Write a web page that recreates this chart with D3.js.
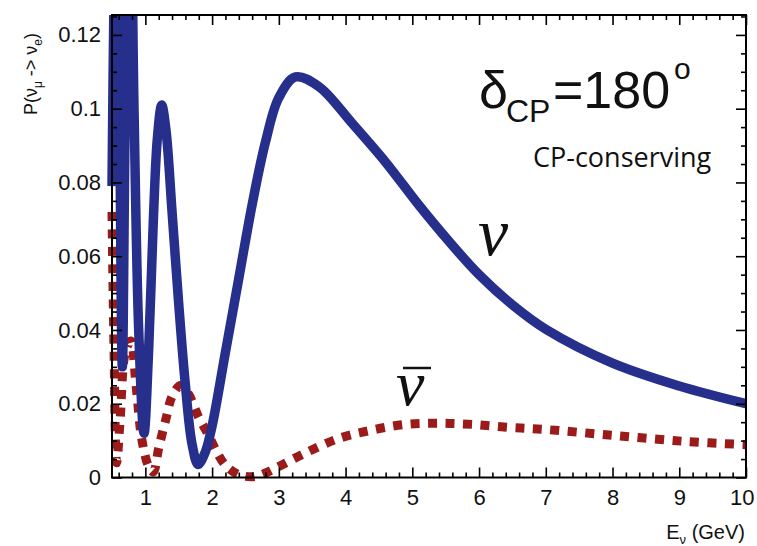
<!DOCTYPE html>
<html><head><meta charset="utf-8">
<script src="https://cdn.jsdelivr.net/npm/d3@7"></script>
<style>body{margin:0;background:#fff}svg{display:block}</style>
</head><body>
<svg id="c" width="757" height="546"></svg>
<script>
// ---- data ----
const energyNu = [0.50,0.53,0.57,0.61,0.655,0.70,0.77,0.83,0.90,0.98,1.05,1.12,1.18,1.245,1.31,1.40,1.50,1.60,1.70,1.79,1.90,2.00,2.20,2.40,2.60,2.80,3.00,3.25,3.60,4.10,4.60,5.10,5.55,6.00,6.50,7.00,8.00,9.00,10.0];
const probNu   = [0.079,0.13,0.17,0.11,0.030,0.10,0.17,0.10,0.040,0.012,0.035,0.070,0.092,0.101,0.094,0.072,0.047,0.025,0.009,0.0035,0.007,0.014,0.034,0.054,0.074,0.091,0.103,0.1086,0.106,0.096,0.0855,0.0738,0.0640,0.0550,0.0468,0.0402,0.0310,0.0248,0.0200];
const energyNuBar = [0.50,0.53,0.57,0.62,0.70,0.78,0.86,0.95,1.05,1.12,1.20,1.31,1.40,1.53,1.65,1.80,1.95,2.06,2.20,2.40,2.60,2.80,3.00,3.38,3.90,4.38,4.90,5.40,5.90,6.45,7.00,8.03,9.08,10.0];
const probNuBar   = [0.072,0.035,0.004,0.015,0.034,0.037,0.025,0.010,0.003,0.0015,0.008,0.016,0.022,0.0250,0.0225,0.0163,0.0114,0.0073,0.0033,0.0008,0.0002,0.0012,0.003,0.0065,0.0106,0.0128,0.0144,0.0147,0.0144,0.0136,0.013,0.0114,0.0098,0.0089];
const xTickValues = [1,2,3,4,5,6,7,8,9,10];
const yTickValues = [0,0.02,0.04,0.06,0.08,0.10,0.12];

// ---- layout ----
const svg = d3.select("#c");
const L=112, R=746, T=15, B=477.5;
const x = d3.scaleLinear().domain([0.5,10]).range([L,R]);
const y = d3.scaleLinear().domain([0,0.1254]).range([B,T]);
const blue = "#26308c", red = "#9b1b1b";
const numFont = "'Liberation Sans', Arial, sans-serif";
const serif = "'Liberation Serif', 'Times New Roman', serif";

svg.append("defs").append("clipPath").attr("id","clip")
  .append("rect").attr("x",L-12).attr("y",T).attr("width",R-L+24).attr("height",B-T+12);

const plot = svg.append("g").attr("clip-path","url(#clip)");
const lineGen = d3.line().x(d=>x(d[0])).y(d=>y(d[1])).curve(d3.curveCatmullRom.alpha(0.5));

plot.append("path").datum(d3.zip(energyNuBar, probNuBar))
  .attr("d", lineGen).attr("fill","none").attr("stroke",red)
  .attr("stroke-width",9).attr("stroke-dasharray","9,8.5");
plot.append("path").datum(d3.zip(energyNu, probNu))
  .attr("d", lineGen).attr("fill","none").attr("stroke",blue)
  .attr("stroke-width",9.5).attr("stroke-linejoin","round");

// ---- axes ----
const xMinor = d3.range(0.6, 10.001, 0.2).filter(v => Math.abs(v-Math.round(v))>1e-6);
const yMinor = d3.range(0.005, 0.1254, 0.005).filter(v => Math.abs(v/0.02-Math.round(v/0.02))>1e-6);
const yFmt = d => d===0 ? "0" : String(+d.toFixed(2));

function style(g){
  g.select(".domain").remove();
  g.selectAll(".tick line").attr("stroke","#000").attr("stroke-width",1.6);
  g.selectAll("text").attr("font-family",numFont).attr("font-size",22).attr("fill","#111");
}
svg.append("g").attr("transform",`translate(0,${B})`)
  .call(d3.axisBottom(x).tickValues(xTickValues).tickSize(-10).tickPadding(12).tickFormat(d3.format("d"))).call(style)
  .selectAll(".tick text").filter(d=>d===10).attr("text-anchor","end").attr("x",8);
svg.append("g").attr("transform",`translate(0,${B})`)
  .call(d3.axisBottom(x).tickValues(xMinor).tickSize(-5).tickFormat("")).call(style);
svg.append("g").attr("transform",`translate(0,${T})`)
  .call(d3.axisTop(x).tickValues(xTickValues).tickSize(-10).tickFormat("")).call(style);
svg.append("g").attr("transform",`translate(0,${T})`)
  .call(d3.axisTop(x).tickValues(xMinor).tickSize(-5).tickFormat("")).call(style);
svg.append("g").attr("transform",`translate(${L},0)`)
  .call(d3.axisLeft(y).tickValues(yTickValues).tickSize(-10).tickPadding(11).tickFormat(yFmt)).call(style);
svg.append("g").attr("transform",`translate(${L},0)`)
  .call(d3.axisLeft(y).tickValues(yMinor).tickSize(-5).tickFormat("")).call(style);
svg.append("g").attr("transform",`translate(${R},0)`)
  .call(d3.axisRight(y).tickValues(yTickValues).tickSize(-10).tickFormat("")).call(style);
svg.append("g").attr("transform",`translate(${R},0)`)
  .call(d3.axisRight(y).tickValues(yMinor).tickSize(-5).tickFormat("")).call(style);

svg.append("rect").attr("x",L).attr("y",T).attr("width",R-L).attr("height",B-T)
  .attr("fill","none").attr("stroke","#000").attr("stroke-width",2);

// ---- axis titles ----
const yl = svg.append("text").attr("transform","translate(37,74) rotate(-90)")
  .attr("text-anchor","middle").attr("font-family",numFont).attr("font-size",18).attr("fill","#111");
yl.append("tspan").text("P(ν");
yl.append("tspan").attr("font-size",12).attr("dy",5).text("μ");
yl.append("tspan").attr("dy",-5).text(" -> ν");
yl.append("tspan").attr("font-size",12).attr("dy",5).text("e");
yl.append("tspan").attr("dy",-5).text(")");

const xl = svg.append("text").attr("x",745).attr("y",539).attr("text-anchor","end")
  .attr("font-family",numFont).attr("font-size",20).attr("fill","#111");
xl.append("tspan").text("E");
xl.append("tspan").attr("font-size",13).attr("dy",5).text("ν");
xl.append("tspan").attr("dy",-5).text(" (GeV)");

// ---- annotations ----
const ann = svg.append("g").attr("fill","#111").attr("font-family",numFont);
ann.append("text").attr("x",479).attr("y",108).attr("font-size",52).text("δ");
ann.append("text").attr("x",506).attr("y",122).attr("font-size",32).text("CP");
ann.append("text").attr("x",553).attr("y",108).attr("font-size",52).text("=180");
ann.append("text").attr("x",674).attr("y",79).attr("font-size",30).text("o");

svg.append("text").attr("x",533).attr("y",167).attr("font-family","'Open Sans', sans-serif")
  .attr("font-size",27).attr("fill","#111").text("CP-conserving");

svg.append("text").attr("x",478).attr("y",255).attr("font-family",serif)
  .attr("font-style","italic").attr("font-size",68).attr("fill","#111").text("ν");
svg.append("text").attr("x",396).attr("y",405).attr("font-family",serif)
  .attr("font-style","italic").attr("font-size",64).attr("fill","#111").text("ν");
svg.append("line").attr("x1",403).attr("x2",431).attr("y1",368).attr("y2",368)
  .attr("stroke","#111").attr("stroke-width",2.5);
</script>
</body></html>
